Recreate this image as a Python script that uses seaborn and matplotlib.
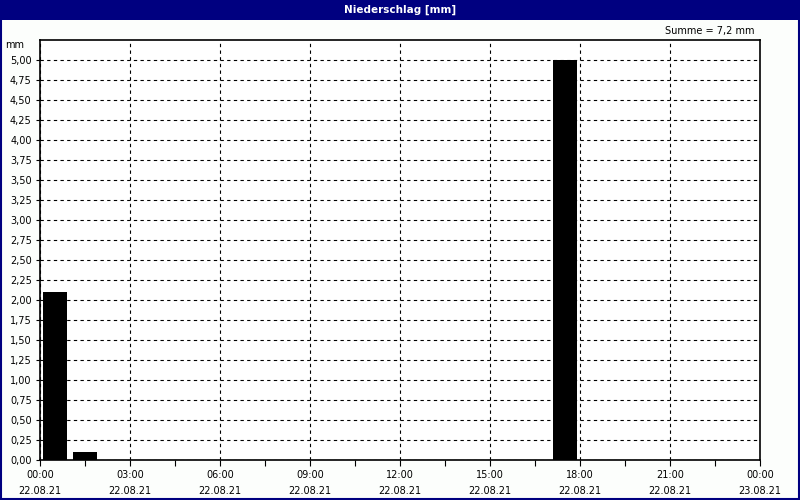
import matplotlib
matplotlib.use('Agg')
import matplotlib.pyplot as plt
from matplotlib.patches import Rectangle
from matplotlib.ticker import FuncFormatter, MultipleLocator
import seaborn as sns
import pandas as pd
import numpy as np

# hourly precipitation, bar centred in its hour (hours after 22.08.21 00:00)
stunde = [0.5, 1.5, 17.5]
niederschlag = [2.1, 0.1, 5.0]
xtick_zeit = ['00:00', '03:00', '06:00', '09:00', '12:00', '15:00', '18:00', '21:00', '00:00']
xtick_datum = ['22.08.21'] * 8 + ['23.08.21']
titel = 'Niederschlag [mm]'
summe_text = 'Summe = 7,2 mm'

navy = '#000080'
sns.set_style('white')
plt.rcParams['font.family'] = ['DejaVu Sans']
plt.rcParams['text.color'] = 'black'
plt.rcParams['xtick.color'] = 'black'
plt.rcParams['ytick.color'] = 'black'

df = pd.DataFrame({'stunde': stunde, 'mm': niederschlag})

fig = plt.figure(figsize=(8, 5), dpi=100, facecolor='#fcfefc')
ax = fig.add_axes([0.05, 0.08, 0.90, 0.84])
ax.set_facecolor('white')

sns.barplot(data=df, x='stunde', y='mm', native_scale=True, width=0.8,
            color='black', saturation=1, edgecolor='black', linewidth=0, ax=ax)

ax.set_xlim(0, 24)
ax.set_ylim(0, 5.25)
ax.set_xlabel('')
ax.set_ylabel('')

ax.set_xticks(range(0, 25, 3))
ax.set_xticklabels([f'{z}\n{d}' for z, d in zip(xtick_zeit, xtick_datum)],
                   fontsize=7, linespacing=1.8)
ax.xaxis.set_minor_locator(MultipleLocator(1.5))
ax.set_yticks(np.arange(0, 5.01, 0.25))
ax.yaxis.set_major_formatter(FuncFormatter(lambda v, p: f'{v:.2f}'.replace('.', ',')))
ax.tick_params(axis='y', labelsize=7, length=3, width=0.8, direction='out', left=True, pad=3)
ax.tick_params(axis='x', which='both', length=4, width=0.8, direction='out', bottom=True, pad=3)

ax.grid(True, which='major', color='black', linestyle=(0, (3, 3)), linewidth=0.8)
ax.set_axisbelow(True)
for s in ax.spines.values():
    s.set_color('black')
    s.set_linewidth(1.2)

ax.text(-0.022, 0.988, 'mm', transform=ax.transAxes, ha='right', va='center', fontsize=7)
ax.text(0.993, 1.021, summe_text, transform=ax.transAxes, ha='right', va='center', fontsize=7)

# title bar and window border
fig.patches.append(Rectangle((0, 0.96), 1, 0.04, transform=fig.transFigure,
                             facecolor=navy, edgecolor='none', zorder=0))
fig.patches.append(Rectangle((0.001, 0.002), 0.998, 0.997, transform=fig.transFigure,
                             facecolor='none', edgecolor=navy, linewidth=1.5, zorder=1))
fig.text(0.5, 0.98, titel, color='white', fontsize=7.5, fontweight='bold',
         ha='center', va='center')

fig.savefig('out.png', dpi=100, facecolor=fig.get_facecolor())
